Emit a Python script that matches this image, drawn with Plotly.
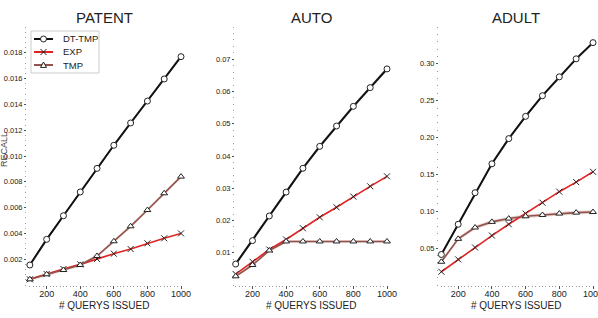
import plotly.graph_objects as go

W, H = 598, 318

queries = [100, 200, 300, 400, 500, 600, 700, 800, 900, 1000]
series_names = ["DT-TMP", "EXP", "TMP"]

patent_dt = [0.00155, 0.00354, 0.00537, 0.00721, 0.00904, 0.01083, 0.01256, 0.01426, 0.01597, 0.0177]
patent_exp = [0.00044, 0.00085, 0.00124, 0.0016, 0.00202, 0.00243, 0.00279, 0.00323, 0.00362, 0.0040]
patent_tmp = [0.00044, 0.00083, 0.00116, 0.00155, 0.00225, 0.00339, 0.00455, 0.00581, 0.00711, 0.0084]

auto_dt = [0.0065, 0.01376, 0.0214, 0.0288, 0.0362, 0.0430, 0.0493, 0.0554, 0.0612, 0.0670]
auto_exp = [0.0034, 0.0072, 0.0110, 0.0141, 0.0176, 0.0210, 0.0241, 0.0274, 0.0306, 0.0337]
auto_tmp = [0.0027, 0.0062, 0.0107, 0.0135, 0.0135, 0.0135, 0.0135, 0.0135, 0.0135, 0.0135]

adult_dt = [0.0414, 0.0824, 0.1252, 0.1644, 0.1986, 0.2288, 0.2568, 0.2824, 0.3068, 0.3288]
adult_exp = [0.018, 0.0347, 0.0509, 0.0671, 0.0824, 0.0969, 0.1117, 0.1266, 0.1396, 0.1536]
adult_tmp = [0.0315, 0.0626, 0.0780, 0.0856, 0.0901, 0.0932, 0.0950, 0.0969, 0.0982, 0.0990]

titles = ["PATENT", "AUTO", "ADULT"]
x_ticks = [200, 400, 600, 800, 1000]
patent_yticks = [0.002, 0.004, 0.006, 0.008, 0.010, 0.012, 0.014, 0.016, 0.018]
auto_yticks = [0.01, 0.02, 0.03, 0.04, 0.05, 0.06, 0.07]
adult_yticks = [0.05, 0.10, 0.15, 0.20, 0.25, 0.30]
x_title = "# QUERYS ISSUED"
y_title = "RECALL"

panels = [
    dict(dt=patent_dt, exp=patent_exp, tmp=patent_tmp, yticks=patent_yticks,
         yfmt=".3f", yr=[0, 0.02], ydt=0.0004, xr=[83, 1000], px=(27, 181)),
    dict(dt=auto_dt, exp=auto_exp, tmp=auto_tmp, yticks=auto_yticks,
         yfmt=".2f", yr=[0, 0.08], ydt=0.002, xr=[96, 1000], px=(235, 387)),
    dict(dt=adult_dt, exp=adult_exp, tmp=adult_tmp, yticks=adult_yticks,
         yfmt=".2f", yr=[0, 0.35], ydt=0.01, xr=[86, 1000], px=(439, 593)),
]

FONT = "Liberation Sans, Arial, sans-serif"
BLACK = "#111111"
RED = "#e02424"
BROWN = "#94524a"
MARK = "#222222"

top_px, bot_px = 27, 285
ydom = [1 - bot_px / H, 1 - top_px / H]


def PX(x):
    return x / W


def PY(y):
    return 1 - y / H


fig = go.Figure()
layout = dict(width=W, height=H, margin=dict(l=0, r=0, t=0, b=0),
              paper_bgcolor="white", plot_bgcolor="white", showlegend=False,
              font=dict(family=FONT, color="#222222"), annotations=[], shapes=[])

for i, p in enumerate(panels):
    n = "" if i == 0 else str(i + 1)
    xa, ya = "x" + n, "y" + n
    halo_dt = {0: 0.00012, 1: 0.0006, 2: 0.002}[i]
    halo_tmp = {0: 0.00012, 1: 0.0004, 2: 0.0025}[i]
    fig.add_trace(go.Scatter(x=queries, y=[v + halo_dt for v in p["dt"]], mode="lines",
                             line=dict(width=0, color="rgba(0,0,0,0)"),
                             hoverinfo="skip", xaxis=xa, yaxis=ya))
    fig.add_trace(go.Scatter(x=queries, y=[v - halo_dt for v in p["dt"]], mode="lines",
                             line=dict(width=0, color="rgba(0,0,0,0)"), fill="tonexty",
                             fillcolor="rgba(0,0,0,0.25)",
                             hoverinfo="skip", xaxis=xa, yaxis=ya))
    fig.add_trace(go.Scatter(x=queries, y=[v + halo_tmp for v in p["tmp"]], mode="lines",
                             line=dict(width=0, color="rgba(0,0,0,0)"),
                             hoverinfo="skip", xaxis=xa, yaxis=ya))
    fig.add_trace(go.Scatter(x=queries, y=[v - halo_tmp for v in p["tmp"]], mode="lines",
                             line=dict(width=0, color="rgba(0,0,0,0)"), fill="tonexty",
                             fillcolor="rgba(148,82,74,0.25)",
                             hoverinfo="skip", xaxis=xa, yaxis=ya))
    fig.add_trace(go.Scatter(x=queries, y=p["dt"], name=series_names[0], mode="lines+markers",
                             line=dict(color=BLACK, width=2),
                             marker=dict(symbol="circle", size=6, color="white",
                                         line=dict(color=MARK, width=1)),
                             cliponaxis=False, xaxis=xa, yaxis=ya))
    fig.add_trace(go.Scatter(x=queries, y=p["exp"], name=series_names[1], mode="lines+markers",
                             line=dict(color=RED, width=1.6),
                             marker=dict(symbol="x-thin", size=6, color=MARK,
                                         line=dict(color=MARK, width=1)),
                             cliponaxis=False, xaxis=xa, yaxis=ya))
    fig.add_trace(go.Scatter(x=queries, y=p["tmp"], name=series_names[2], mode="lines+markers",
                             line=dict(color=BROWN, width=1.6),
                             marker=dict(symbol="triangle-up", size=6, color="white",
                                         line=dict(color=MARK, width=1)),
                             cliponaxis=False, xaxis=xa, yaxis=ya))

    x0, x1 = p["px"]
    layout["xaxis" + n] = dict(domain=[x0 / W, x1 / W], range=p["xr"], anchor=ya,
                               tickvals=x_ticks, ticks="outside", ticklen=3, tickwidth=1,
                               tickcolor="#555555", showgrid=False, zeroline=False,
                               showline=False, automargin=False, ticklabelstandoff=-3,
                               ticklabeloverflow="allow",
                               tickfont=dict(size=9, color="#222222"),
                               minor=dict(ticks="outside", ticklen=1, dtick=20,
                                          tickcolor="#999999", showgrid=False))
    layout["yaxis" + n] = dict(domain=ydom, range=p["yr"], anchor=xa,
                               tickvals=p["yticks"], tickformat=p["yfmt"],
                               ticks="outside", ticklen=2, tickwidth=1, tickcolor="#555555",
                               showgrid=False, zeroline=False, showline=False, automargin=False,
                               tickfont=dict(size=7.5, color="#222222"),
                               minor=dict(ticks="outside", ticklen=1, dtick=p["ydt"],
                                          tickcolor="#999999", showgrid=False))
    cx = (x0 + x1) / 2 / W
    layout["annotations"].append(dict(text=titles[i], x=cx, y=PY(18), xref="paper",
                                      yref="paper", showarrow=False, xanchor="center",
                                      yanchor="middle", font=dict(size=15, color="#222222")))
    layout["annotations"].append(dict(text=x_title, x=cx, y=PY(305), xref="paper",
                                      yref="paper", showarrow=False, xanchor="center",
                                      yanchor="middle", font=dict(size=10, color="#222222")))

layout["annotations"].append(dict(text=y_title, x=PX(4), y=PY(150), xref="paper",
                                  yref="paper", showarrow=False, textangle=-90,
                                  xanchor="center", yanchor="middle",
                                  font=dict(size=9, color="#444444")))

# compact legend box (drawn in paper space)
lx0, ly0, lx1, ly1 = 31, 31, 99, 73
layout["shapes"].append(dict(type="rect", xref="paper", yref="paper",
                             x0=PX(lx0), x1=PX(lx1), y0=PY(ly0), y1=PY(ly1),
                             line=dict(color="#cccccc", width=1), fillcolor="white",
                             layer="above"))
rows = [39, 52, 65]
colors = [BLACK, RED, BROWN]
widths = [2, 2, 2]
for name, ry, c, w in zip(series_names, rows, colors, widths):
    layout["shapes"].append(dict(type="line", xref="paper", yref="paper",
                                 x0=PX(34), x1=PX(53), y0=PY(ry), y1=PY(ry),
                                 line=dict(color=c, width=w), layer="above"))
    layout["annotations"].append(dict(text=name, x=PX(61), y=PY(ry), xref="paper",
                                      yref="paper", showarrow=False, xanchor="left",
                                      yanchor="middle",
                                      font=dict(size=9.5, color="#222222")))
mx, r = 43.5, 3
layout["shapes"].append(dict(type="circle", xref="paper", yref="paper",
                             x0=PX(mx - r), x1=PX(mx + r), y0=PY(rows[0] - r), y1=PY(rows[0] + r),
                             line=dict(color=MARK, width=1), fillcolor="white", layer="above"))
layout["shapes"].append(dict(type="path", xref="paper", yref="paper",
                             path=(f"M {PX(mx - r)},{PY(rows[1] - r)} L {PX(mx + r)},{PY(rows[1] + r)} "
                                   f"M {PX(mx - r)},{PY(rows[1] + r)} L {PX(mx + r)},{PY(rows[1] - r)}"),
                             line=dict(color=MARK, width=1), layer="above"))
layout["shapes"].append(dict(type="path", xref="paper", yref="paper",
                             path=(f"M {PX(mx)},{PY(rows[2] - r)} L {PX(mx + r)},{PY(rows[2] + r * 0.8)} "
                                   f"L {PX(mx - r)},{PY(rows[2] + r * 0.8)} Z"),
                             line=dict(color=MARK, width=1), fillcolor="white", layer="above"))

fig.update_layout(**layout)
fig.write_html("out.html", config={"displayModeBar": False},
               post_script="document.body.style.margin='0';")
